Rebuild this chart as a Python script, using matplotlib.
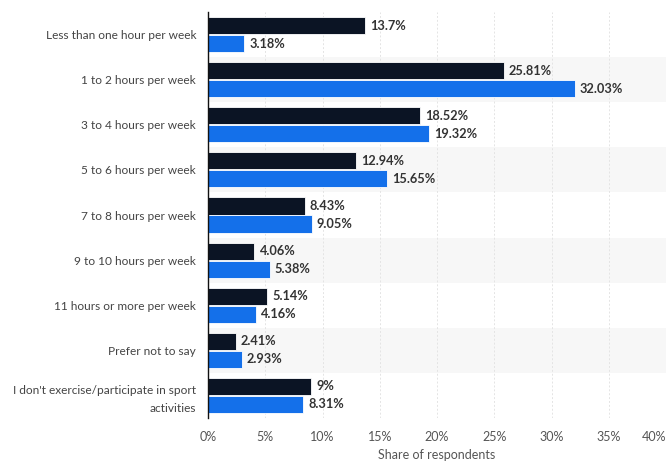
import matplotlib
matplotlib.use("Agg")
import matplotlib.pyplot as plt
import numpy as np

categories = [
    "Less than one hour per week",
    "1 to 2 hours per week",
    "3 to 4 hours per week",
    "5 to 6 hours per week",
    "7 to 8 hours per week",
    "9 to 10 hours per week",
    "11 hours or more per week",
    "Prefer not to say",
    "I don't exercise/participate in sport\nactivities",
]
series_dark = [13.7, 25.81, 18.52, 12.94, 8.43, 4.06, 5.14, 2.41, 9.0]
series_blue = [3.18, 32.03, 19.32, 15.65, 9.05, 5.38, 4.16, 2.93, 8.31]
dark_labels = ["13.7%", "25.81%", "18.52%", "12.94%", "8.43%", "4.06%", "5.14%", "2.41%", "9%"]
blue_labels = ["3.18%", "32.03%", "19.32%", "15.65%", "9.05%", "5.38%", "4.16%", "2.93%", "8.31%"]
xticks = [0, 5, 10, 15, 20, 25, 30, 35, 40]

fam = ["Lato", "DejaVu Sans"]
plt.rcParams["font.family"] = fam

fig = plt.figure(figsize=(6.69, 4.65), dpi=100)
ax = fig.add_axes([208 / 669, 1 - 418 / 465, (666 - 208) / 669, (418 - 12) / 465])

y = np.arange(len(categories))
h = 0.38
dark = "#0b1424"
blue = "#1470ea"

for i in range(len(categories)):
    if i % 2 == 1:
        ax.axhspan(i - 0.5, i + 0.5, color="#f7f7f7", zorder=0, lw=0)

ax.barh(y - h / 2 - 0.01, series_dark, height=h, color=dark, edgecolor="white", linewidth=0.6, zorder=3)
ax.barh(y + h / 2 + 0.01, series_blue, height=h, color=blue, edgecolor="white", linewidth=0.6, zorder=3)

for i in range(len(categories)):
    ax.text(series_dark[i] + 0.45, y[i] - h / 2 - 0.01, dark_labels[i], va="center", ha="left",
            fontsize=9.2, fontweight="bold", color="#333333", zorder=4)
    ax.text(series_blue[i] + 0.45, y[i] + h / 2 + 0.01, blue_labels[i], va="center", ha="left",
            fontsize=9.2, fontweight="bold", color="#333333", zorder=4)

ax.set_xlim(0, 40)
ax.set_ylim(len(categories) - 0.5, -0.5)
ax.set_yticks(y)
ax.set_yticklabels(categories, fontsize=8.6, color="#444444", linespacing=1.7)
ax.set_xticks(xticks)
ax.set_xticklabels([f"{t}%" for t in xticks], fontsize=9, color="#555555")
xl = ax.get_xticklabels()
xl[-1].set_horizontalalignment("right")
ax.tick_params(axis="both", length=0)
ax.tick_params(axis="y", pad=8.5)
ax.tick_params(axis="x", pad=9)
ax.set_xlabel("Share of respondents", fontsize=9, color="#555555", labelpad=5)
ax.xaxis.grid(True, color="#e4e4e4", linestyle=(0, (2, 2)), linewidth=0.7, zorder=1)
ax.set_axisbelow(True)
for s in ["top", "right", "bottom"]:
    ax.spines[s].set_visible(False)
ax.spines["left"].set_color("#111111")
ax.spines["left"].set_linewidth(1)
ax.spines["left"].set_zorder(5)

fig.savefig("out.png", dpi=100)
